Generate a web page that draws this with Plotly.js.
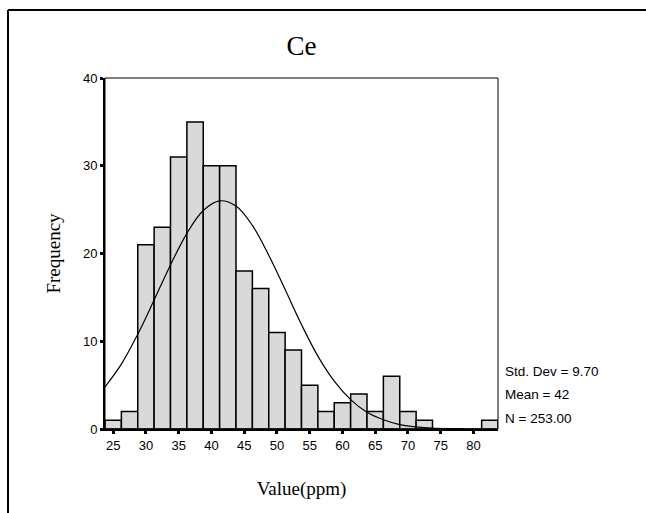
<!DOCTYPE html>
<html>
<head>
<meta charset="utf-8">
<script src="https://cdn.plot.ly/plotly-3.0.1.min.js"></script>
<style>
  html, body { margin: 0; padding: 0; background: #fff; overflow: hidden; }
  #chart { width: 646px; height: 513px; }
</style>
</head>
<body>
<div id="chart"></div>
<script>
// Histogram bins (centres, width 2.5 ppm) and counts
const binCenters = [25, 27.5, 30, 32.5, 35, 37.5, 40, 42.5, 45, 47.5, 50, 52.5,
                    55, 57.5, 60, 62.5, 65, 67.5, 70, 72.5, 75, 77.5, 80, 82.5];
const counts     = [1, 2, 21, 23, 31, 35, 30, 30, 18, 16, 11, 9,
                    5, 2, 3, 4, 2, 6, 2, 1, 0, 0, 0, 1];

// Fitted normal curve
const curveX = [23.75, 26.25, 28.75, 31.25, 33.75, 36.25, 38.75, 41.25, 43.75, 46.25,
                48.75, 51.25, 53.75, 56.25, 58.75, 61.25, 63.75, 66.25, 68.75, 71.25,
                73.75, 76.25, 78.75];
const curveY = [4.8, 7.4, 10.8, 14.7, 18.7, 22.3, 24.9, 26.0, 25.4, 23.2,
                19.8, 15.9, 11.9, 8.3, 5.45, 3.35, 1.9, 1.05, 0.5, 0.25,
                0.1, 0.04, 0.01];

const xTicks = [25, 30, 35, 40, 45, 50, 55, 60, 65, 70, 75, 80];
const yTicks = [0, 10, 20, 30, 40];

const titleText = "Ce";
const xTitle = "Value(ppm)";
const yTitle = "Frequency";
const statLines = ["Std. Dev = 9.70", "Mean = 42", "N = 253.00"];

const serif = "Liberation Serif, Times New Roman, serif";
const sans = "Liberation Sans, Arial, sans-serif";

const traces = [
  {
    type: "bar",
    x: binCenters,
    y: counts,
    width: 2.5,
    marker: { color: "#d9d9d9", line: { color: "#000", width: 1.5 } },
    hoverinfo: "x+y"
  },
  {
    type: "scatter",
    mode: "lines",
    x: curveX,
    y: curveY,
    line: { color: "#000", width: 1.2, shape: "spline", smoothing: 1 },
    hoverinfo: "skip"
  }
];

const statY = [0.165, 0.0997, 0.0313];
const annotations = statLines.map((t, i) => ({
  text: t, xref: "paper", yref: "paper", x: 1.0127, y: statY[i],
  xanchor: "left", yanchor: "middle", showarrow: false,
  font: { family: sans, size: 13.5, color: "#000" }
}));

const layout = {
  width: 646, height: 513,
  margin: { l: 105, r: 148, t: 78, b: 84 },
  paper_bgcolor: "#fff", plot_bgcolor: "#fff",
  showlegend: false,
  bargap: 0,
  title: { text: titleText, font: { family: serif, size: 27, color: "#000" },
           xref: "paper", x: 0.5, xanchor: "center", yref: "container", y: 0.912, yanchor: "middle" },
  xaxis: {
    range: [23.75, 83.75], tickvals: xTicks, ticktext: xTicks.map(String),
    showgrid: false, zeroline: false, showline: true, linecolor: "#000", linewidth: 2,
    ticks: "outside", ticklen: 3, tickwidth: 3, tickcolor: "#000",
    tickfont: { family: sans, size: 13, color: "#000" },
    title: { text: xTitle, font: { family: serif, size: 19, color: "#000" }, standoff: 30 }
  },
  yaxis: {
    range: [0, 40], tickvals: yTicks, ticktext: yTicks.map(String),
    showgrid: false, zeroline: false, showline: true, linecolor: "#000", linewidth: 2,
    ticks: "outside", ticklen: 3, tickwidth: 3, tickcolor: "#000",
    tickfont: { family: sans, size: 13, color: "#000" },
    title: { text: yTitle, font: { family: serif, size: 19, color: "#000" }, standoff: 17 }
  },
  shapes: [
    { type: "rect", xref: "paper", yref: "paper", x0: 0, x1: 1, y0: 0, y1: 1,
      line: { color: "#000", width: 1 }, layer: "above" },
    // outer page frame: top and left edges only
    { type: "line", xref: "paper", yref: "paper", x0: -0.2468, x1: 1.40, y0: 1.1937, y1: 1.1937,
      line: { color: "#000", width: 2 }, layer: "above" },
    { type: "line", xref: "paper", yref: "paper", x0: -0.2468, x1: -0.2468, y0: 1.1937, y1: -0.26,
      line: { color: "#000", width: 2 }, layer: "above" }
  ],
  annotations: annotations
};

Plotly.newPlot("chart", traces, layout, { displayModeBar: false, staticPlot: true });
</script>
</body>
</html>
